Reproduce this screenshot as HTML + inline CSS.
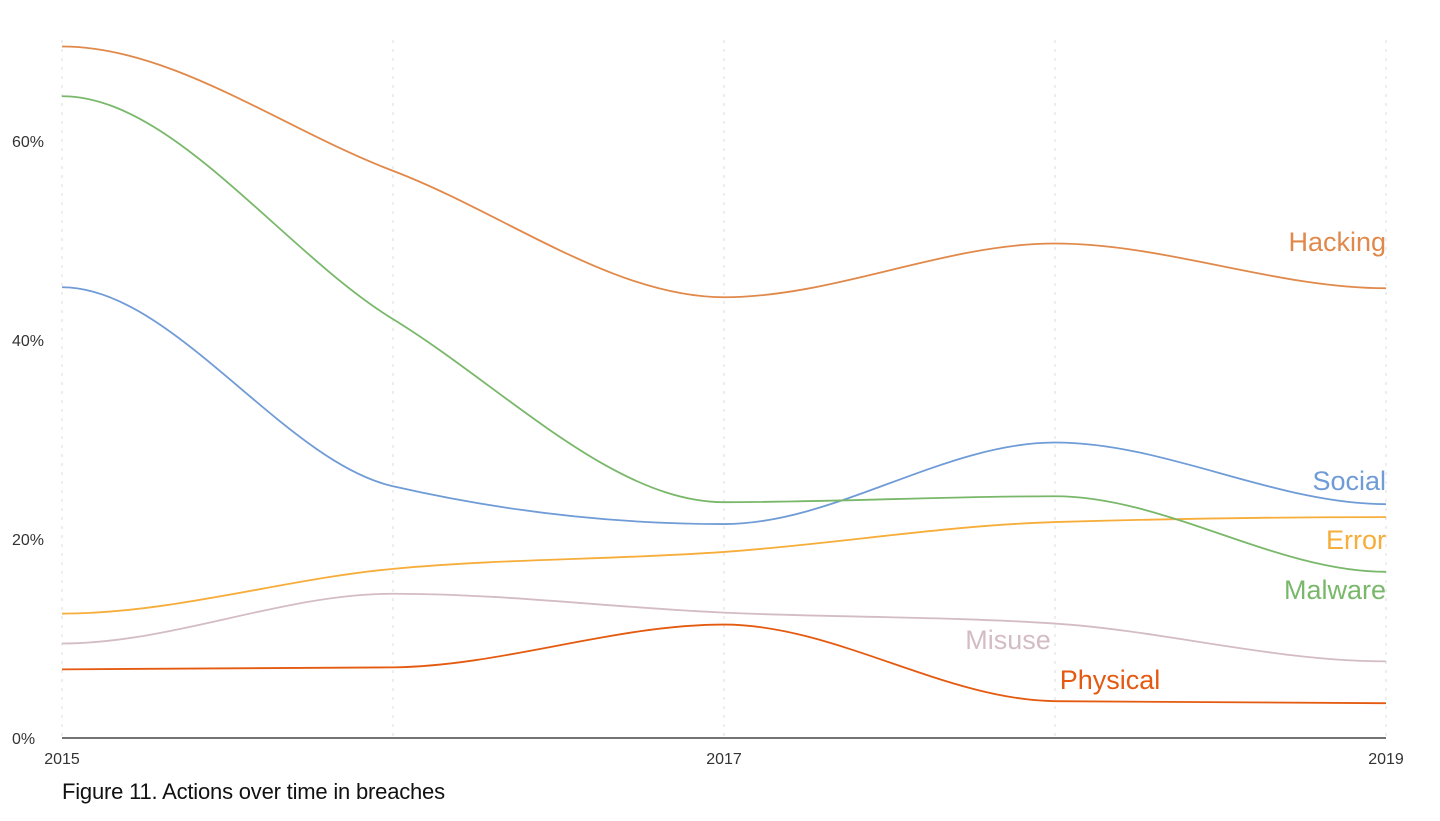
<!DOCTYPE html>
<html><head><meta charset="utf-8"><style>
body{margin:0;background:#fff;width:1440px;height:816px;overflow:hidden;font-family:"Liberation Sans",sans-serif}
</style></head><body>
<svg id="chart" width="1440" height="816" xmlns="http://www.w3.org/2000/svg"></svg>
<script>
const years=[2015,2016,2017,2018,2019];
const yTicks=[0,20,40,60];
const xTickYears=[2015,2017,2019];
const seriesNames=["Hacking","Social","Error","Malware","Misuse","Physical"];
const hacking=[69.5,57,44.3,49.7,45.2];
const social=[45.3,25.3,21.5,29.7,23.5];
const error=[12.5,17,18.7,21.7,22.2];
const malware=[64.5,42.1,23.7,24.3,16.7];
const misuse=[9.5,14.5,12.6,11.5,7.7];
const physical=[6.9,7.1,11.4,3.7,3.5];
const colors={Hacking:"#e0894a",Social:"#6f9bd6",Error:"#f7ad3a",Malware:"#79b86a",Misuse:"#d4bcc4",Physical:"#e45a10"};
const data={Hacking:hacking,Social:social,Error:error,Malware:malware,Misuse:misuse,Physical:physical};
const NS="http://www.w3.org/2000/svg";
const svg=document.getElementById('chart');
const x=yr=>62+(yr-2015)*331;
const y=v=>738-v*9.95;
function mk(tag,attrs,parent){const e=document.createElementNS(NS,tag);for(const k in attrs)e.setAttribute(k,attrs[k]);(parent||svg).appendChild(e);return e;}
years.forEach(yr=>{const g=mk('line',{x1:x(yr),x2:x(yr),y1:40,y2:738,stroke:'#dcdcdc','stroke-dasharray':'3,6'});

});
yTicks.forEach(v=>{const t=mk('text',{x:12,y:y(v)+6,'font-size':16,fill:'#333'});t.textContent=v+'%';

});
const ax=mk('line',{x1:62,x2:1386,y1:738,y2:738,stroke:'#222','stroke-width':1.2});


xTickYears.forEach(yr=>{const t=mk('text',{x:x(yr),y:764,'font-size':16,fill:'#333','text-anchor':'middle'});t.textContent=yr;

});
function pathFor(vals){
 const p=years.map((yr,i)=>[x(yr),y(vals[i])]);const n=p.length;
 const s=[];for(let i=0;i<n-1;i++)s.push((p[i+1][1]-p[i][1])/(p[i+1][0]-p[i][0]));
 const m=[];
 for(let i=0;i<n;i++){
  if(i==0||i==n-1){m.push(0);continue;}
  const a=s[i-1],b=s[i];
  if(a*b<=0)m.push(0);else{const h0=p[i][0]-p[i-1][0],h1=p[i+1][0]-p[i][0];
   const pp=(a*h1+b*h0)/(h0+h1);m.push((Math.sign(a)+Math.sign(b))*Math.min(Math.abs(a),Math.abs(b),0.5*Math.abs(pp)));}
 }
 let d=`M${p[0][0]},${p[0][1]}`;
 for(let i=0;i<n-1;i++){const dx=(p[i+1][0]-p[i][0])/3;
  d+=` C${p[i][0]+dx},${p[i][1]+m[i]*dx} ${p[i+1][0]-dx},${p[i+1][1]-m[i+1]*dx} ${p[i+1][0]},${p[i+1][1]}`;}
 return d;}
seriesNames.forEach(n=>{const l=mk('path',{d:pathFor(data[n]),fill:'none',stroke:colors[n],'stroke-width':1.8});

});
const labels=[["Hacking",1386,251,"end"],["Social",1386,490,"end"],["Error",1386,549,"end"],["Malware",1386,599,"end"],["Misuse",1008,649,"middle"],["Physical",1110,689,"middle"]];
labels.forEach(([n,lx,ly,a])=>{const t=mk('text',{x:lx,y:ly,'font-size':27,fill:colors[n],'text-anchor':a});t.textContent=n;

});
const c=mk('text',{x:62,y:799,'font-size':22,fill:'#111','letter-spacing':'-0.2'});c.textContent="Figure 11. Actions over time in breaches";


</script>
</body></html>
